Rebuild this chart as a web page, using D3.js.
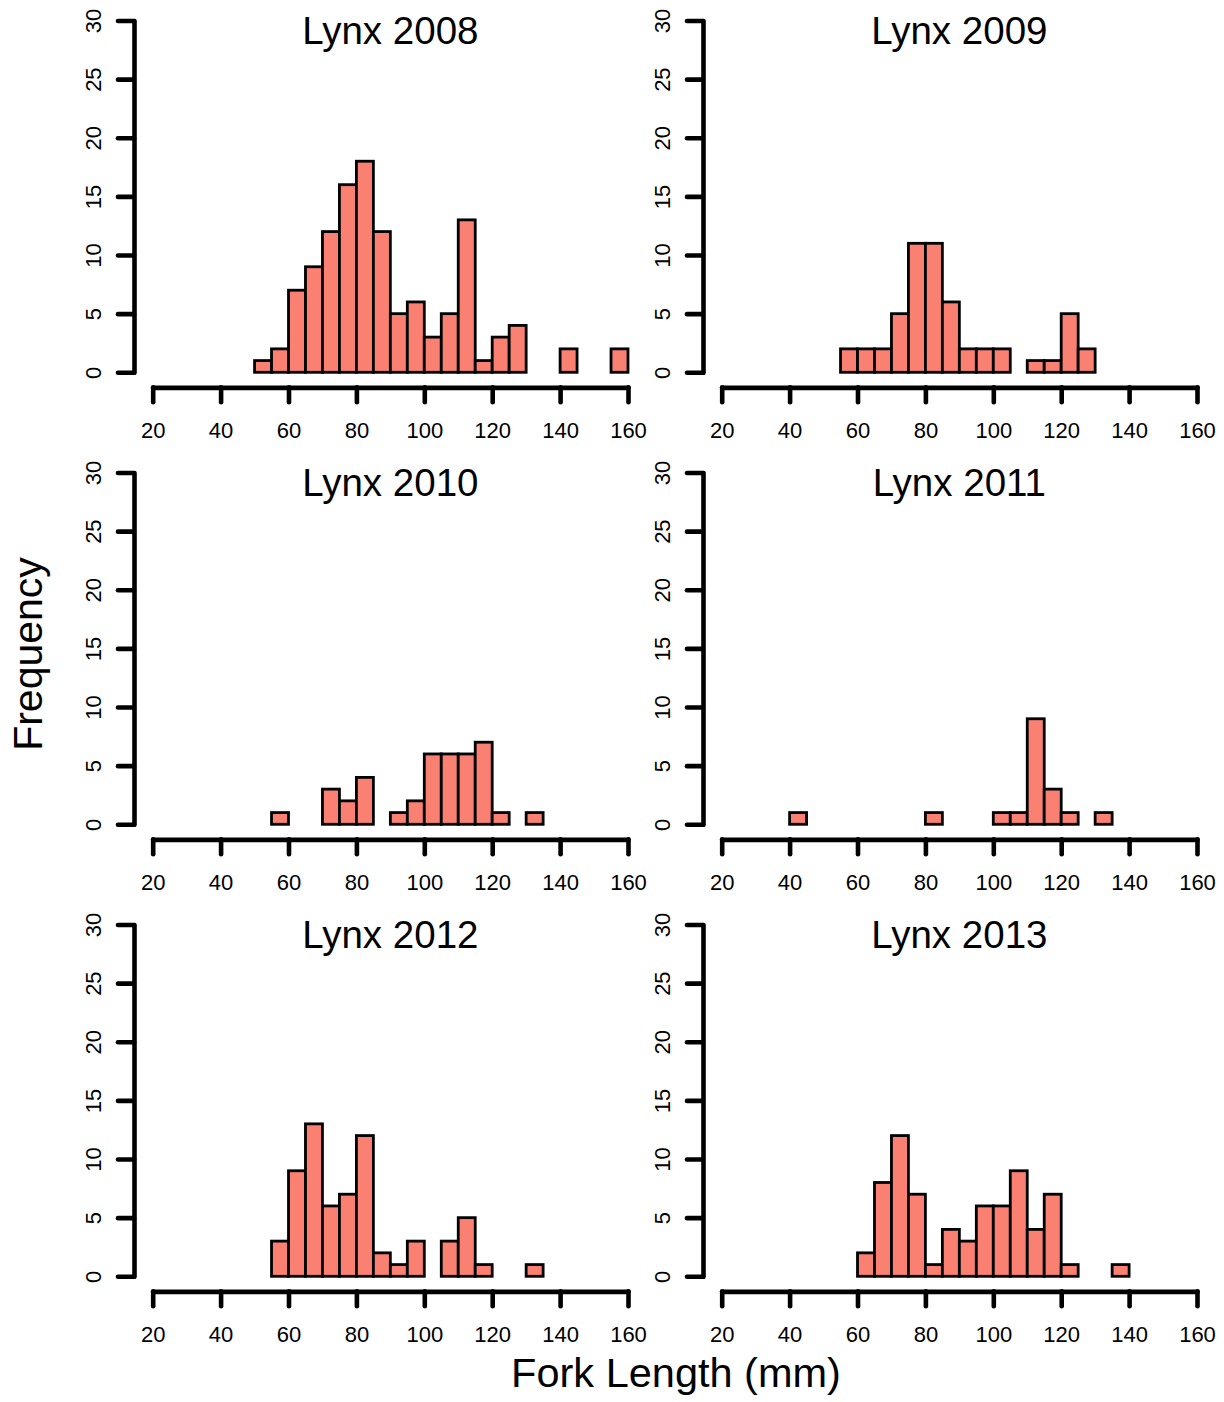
<!DOCTYPE html>
<html>
<head>
<meta charset="utf-8">
<script src="https://cdn.jsdelivr.net/npm/d3@7"></script>
<style>
  html, body { margin: 0; padding: 0; background: #fff; }
  svg text { font-family: "Liberation Sans", Arial, Helvetica, sans-serif; fill: #000; }
</style>
</head>
<body>
<svg id="chart" width="1224" height="1402"></svg>
<script>
// Fork length bins: 5 mm wide, from 20 to 160 mm
const binStarts = d3.range(20, 160, 5);
const binWidth = 5;

// Counts per bin for each survey year
const lynx2008 = [0,0,0,0,0,0,1,2,7,9,12,16,18,12,5,6,3,5,13,1,3,4,0,0,2,0,0,2];
const lynx2009 = [0,0,0,0,0,0,0,2,2,2,5,11,11,6,2,2,2,0,1,1,5,2,0,0,0,0,0,0];
const lynx2010 = [0,0,0,0,0,0,0,1,0,0,3,2,4,0,1,2,6,6,6,7,1,0,1,0,0,0,0,0];
const lynx2011 = [0,0,0,0,1,0,0,0,0,0,0,0,1,0,0,0,1,1,9,3,1,0,1,0,0,0,0,0];
const lynx2012 = [0,0,0,0,0,0,0,3,9,13,6,7,12,2,1,3,0,3,5,1,0,0,1,0,0,0,0,0];
const lynx2013 = [0,0,0,0,0,0,0,0,2,8,12,7,1,4,3,6,6,9,4,7,1,0,0,1,0,0,0,0];

const panelTitles = ["Lynx 2008", "Lynx 2009", "Lynx 2010", "Lynx 2011", "Lynx 2012", "Lynx 2013"];
const panelCounts = [lynx2008, lynx2009, lynx2010, lynx2011, lynx2012, lynx2013];

const xTicks = [20, 40, 60, 80, 100, 120, 140, 160];
const yTicks = [0, 5, 10, 15, 20, 25, 30];
const xLabel = "Fork Length (mm)";
const yLabel = "Frequency";

const svg = d3.select("#chart");
svg.append("rect").attr("width", 1224).attr("height", 1402).attr("fill", "#fff");

// Panel geometry
const colX = [152.7, 721.7];      // pixel position of x = 20 in each column
const plotW = 475.3;               // 20..160 mm
const rowTop = [20.5, 472.5, 924.5]; // pixel position of y = 30 in each row
const plotH = 351.8;               // 0..30 counts
const yAxisGap = 18.7;             // y axis sits left of the data region
const xAxisGap = 15;               // x axis sits below the zero line
const barFill = "#FA8072";

panelCounts.forEach((counts, i) => {
  const col = i % 2, row = Math.floor(i / 2);
  const x = d3.scaleLinear().domain([20, 160]).range([colX[col], colX[col] + plotW]);
  const y = d3.scaleLinear().domain([0, 30]).range([rowTop[row] + plotH, rowTop[row]]);
  const g = svg.append("g");

  // Histogram bars (zero bins form the baseline)
  g.selectAll("rect.bar")
    .data(counts.map((c, k) => ({ start: binStarts[k], count: c })))
    .join("rect")
    .attr("class", "bar")
    .attr("x", d => x(d.start))
    .attr("width", d => x(d.start + binWidth) - x(d.start))
    .attr("y", d => y(d.count))
    .attr("height", d => y(0) - y(d.count))
    .attr("fill", barFill)
    .attr("stroke", "#000")
    .attr("stroke-width", 2.8);

  // Y axis
  const yAxisX = colX[col] - yAxisGap;
  const ya = g.append("g")
    .attr("transform", `translate(${yAxisX},0)`)
    .call(d3.axisLeft(y).tickValues(yTicks).tickSize(16).tickSizeOuter(0).tickFormat(d3.format("d")));
  ya.select(".domain").attr("stroke", "#000").attr("stroke-width", 4.6).attr("stroke-linecap", "round");
  ya.selectAll(".tick line").attr("stroke", "#000").attr("stroke-width", 4.6).attr("stroke-linecap", "round");
  ya.selectAll(".tick text")
    .attr("x", null).attr("dy", null)
    .attr("text-anchor", "middle")
    .attr("transform", "translate(-33,0) rotate(-90)")
    .attr("font-size", 22)
    .attr("fill", "#111");

  // X axis
  const xAxisY = y(0) + xAxisGap;
  const xa = g.append("g")
    .attr("transform", `translate(0,${xAxisY})`)
    .call(d3.axisBottom(x).tickValues(xTicks).tickSize(15).tickSizeOuter(0).tickFormat(d3.format("d")));
  xa.select(".domain").attr("stroke", "#000").attr("stroke-width", 4.8).attr("stroke-linecap", "round");
  xa.selectAll(".tick line").attr("stroke", "#000").attr("stroke-width", 4.6).attr("stroke-linecap", "round");
  xa.selectAll(".tick text")
    .attr("y", 51).attr("dy", null)
    .attr("font-size", 22)
    .attr("fill", "#111");

  // Panel title
  g.append("text")
    .attr("x", (x.range()[0] + x.range()[1]) / 2)
    .attr("y", rowTop[row] + 23)
    .attr("text-anchor", "middle")
    .attr("font-size", 38.5)
    .text(panelTitles[i]);
});

// Shared axis titles
svg.append("text")
  .attr("transform", "translate(42,654) rotate(-90)")
  .attr("text-anchor", "middle")
  .attr("font-size", 41)
  .text(yLabel);

svg.append("text")
  .attr("x", 676)
  .attr("y", 1387)
  .attr("text-anchor", "middle")
  .attr("font-size", 41.5)
  .text(xLabel);
</script>
</body>
</html>
